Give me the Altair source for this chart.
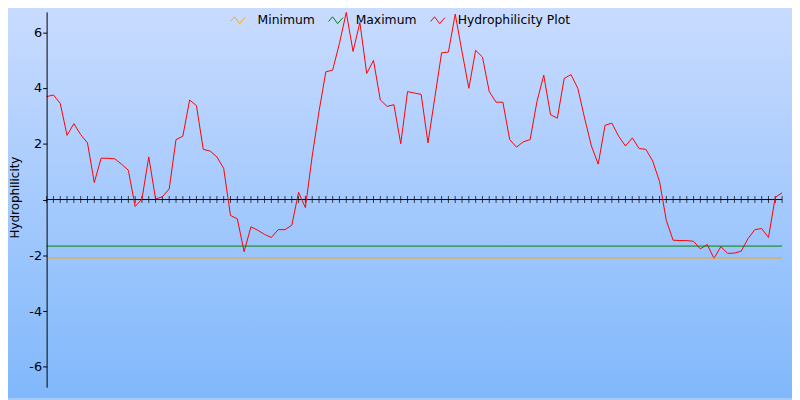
import altair as alt
import pandas as pd

# ---- data ----
residues = list(range(109))
hydro = [
    3.69, 3.75, 3.45, 2.30, 2.72, 2.33, 2.03, 0.61, 1.48, 1.48,
    1.46, 1.27, 1.05, -0.25, 0.02, 1.53, 0.02, 0.10, 0.38, 2.15,
    2.27, 3.57, 3.37, 1.80, 1.74, 1.53, 1.12, -0.57, -0.69, -1.87,
    -0.98, -1.10, -1.25, -1.36, -1.08, -1.08, -0.92, 0.26, -0.29, 1.56,
    3.16, 4.58, 4.64, 5.60, 6.71, 5.31, 6.35, 4.52, 4.99, 3.57,
    3.34, 3.40, 2.00, 3.87, 3.82, 3.77, 2.03, 3.65, 5.26, 5.29,
    6.65, 5.30, 3.99, 5.35, 5.11, 3.87, 3.49, 3.49, 2.15, 1.88,
    2.07, 2.15, 3.51, 4.46, 3.04, 2.92, 4.34, 4.48, 3.99, 2.92,
    1.92, 1.27, 2.66, 2.74, 2.27, 1.92, 2.21, 1.83, 1.80, 1.38,
    0.65, -0.75, -1.46, -1.47, -1.47, -1.50, -1.77, -1.61, -2.11, -1.69,
    -1.93, -1.92, -1.85, -1.40, -1.08, -1.04, -1.36, 0.08, 0.24,
]
min_value = -2.095
max_value = -1.669
series_names = ["Minimum", "Maximum", "Hydrophilicity Plot"]
series_colors = ["#ffa500", "#008000", "#ff0000"]
y_tick_values = [-6, -4, -2, 0, 2, 4, 6]
chart_title = "CENTER_TEST_CP"
y_title = "Hydrophilicity"

# ---- tables ----
rows = [{"residue": r, "value": v, "series": "Hydrophilicity Plot"} for r, v in zip(residues, hydro)]
for r in (residues[0], residues[-1]):
    rows.append({"residue": r, "value": min_value, "series": "Minimum"})
    rows.append({"residue": r, "value": max_value, "series": "Maximum"})
df_lines = pd.DataFrame(rows)
df_ticks = pd.DataFrame({"residue": residues, "zero": [0] * len(residues)})
df_zero = pd.DataFrame({"x0": [residues[0]], "x1": [residues[-1]], "zero": [0]})

W = 742.6
H = 379
PL, PT = 39, 2

xs = alt.Scale(domain=[residues[0], residues[-1]], nice=False, zero=False)
ys = alt.Scale(domain=[-6.73, 6.73], nice=False, zero=False)

y_axis = alt.Axis(
    values=y_tick_values,
    labelExpr="datum.value == 0 ? '' : toString(datum.value)",
    grid=False, zindex=2,
    tickSize=4, tickColor="black", tickWidth=1,
    domainColor="black", domainWidth=1,
    labelColor="black", labelFont="DejaVu Sans", labelFontSize=13, labelPadding=1,
    title=y_title, titleFont="DejaVu Sans", titleFontSize=12, titleFontWeight="normal",
    titleColor="black", titleX=-25, titleY=187, titleBaseline="bottom", titleAlign="center",
)

bg = alt.Chart(pd.DataFrame({"k": [0]})).mark_rect(
    fill=alt.LinearGradient(
        gradient="linear", x1=0, x2=0, y1=0, y2=1,
        stops=[alt.GradientStop(color="#cadcff", offset=0),
               alt.GradientStop(color="#80b8fb", offset=1)],
    )
).encode(x=alt.value(-PL), x2=alt.value(W + 30), y=alt.value(-PT - 8), y2=alt.value(400 - PT - 8))

zero_line = alt.Chart(df_zero).mark_rule(color="black", strokeWidth=1).encode(
    x=alt.X("x0:Q", scale=xs, axis=None), x2="x1:Q",
    y=alt.Y("zero:Q", scale=ys, axis=y_axis),
)

ticks = alt.Chart(df_ticks).mark_tick(orient="vertical", size=7, thickness=1, color="black").encode(
    x=alt.X("residue:Q", scale=xs, axis=None),
    y=alt.Y("zero:Q", scale=ys, axis=y_axis),
)

lines = alt.Chart(df_lines).mark_line(strokeWidth=1).encode(
    x=alt.X("residue:Q", scale=xs, axis=None),
    y=alt.Y("value:Q", scale=ys, axis=y_axis),
    color=alt.Color(
        "series:N",
        scale=alt.Scale(domain=series_names, range=series_colors),
        legend=alt.Legend(
            title=None, orient="none", direction="horizontal",
            legendX=185, legendY=0,
            symbolType="M-1,0.2L-0.45,-0.45L0.25,0.5L1,-0.35",
            symbolSize=210, symbolStrokeWidth=1, symbolFillColor="transparent",
            labelFont="DejaVu Sans", labelFontSize=12.5, labelColor="black",
            labelOffset=12, columnPadding=11,
        ),
    ),
)

chart = alt.layer(bg, zero_line, ticks, lines).properties(
    width=W, height=H,
    title=alt.TitleParams(
        text=chart_title, font="DejaVu Sans", fontSize=14, fontWeight="normal",
        color="black", anchor="middle", offset=0, dx=-20,
    ),
    autosize=alt.AutoSizeParams(type="none"),
    padding={"left": PL, "top": PT, "right": 10, "bottom": 11},
).configure(background="#a5cafc").configure_view(stroke=None)

chart.save("out.html", embed_options={"renderer": "svg", "actions": False})
